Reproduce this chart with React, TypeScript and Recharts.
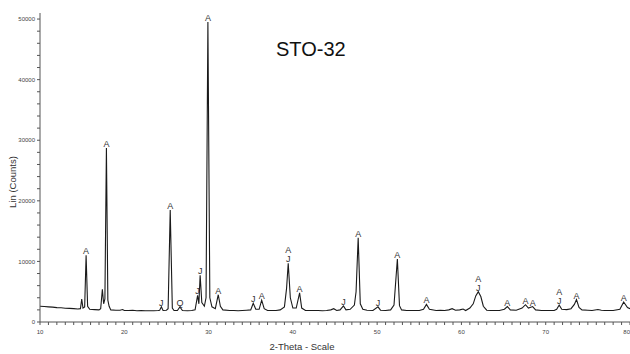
import { LineChart, Line, XAxis, YAxis, ReferenceDot } from "recharts";

// XRD profile: [2-theta, counts]
const profile: [number, number][] = [
  [10.0, 2600], [10.5, 2550], [11.0, 2500], [11.5, 2450], [12.0, 2380], [12.5, 2350],
  [13.0, 2280], [13.5, 2250], [14.0, 2200], [14.5, 2150], [14.8, 2200], [14.95, 3800],
  [15.1, 2300], [15.3, 2500], [15.47, 11000], [15.65, 2600], [15.9, 2100], [16.5, 2050],
  [17.0, 2000], [17.2, 2200], [17.4, 5400], [17.55, 3000], [17.7, 3800], [17.88, 28700],
  [18.05, 3600], [18.2, 2600], [18.4, 2000], [19.0, 1950], [19.5, 1950], [19.8, 2050],
  [20.0, 1900], [20.5, 1900], [21.0, 1950], [21.5, 1850], [22.0, 1900], [22.5, 1850],
  [23.0, 1850], [23.5, 1850], [24.0, 1900], [24.2, 1950], [24.4, 2500], [24.6, 1900],
  [25.0, 1950], [25.2, 2200], [25.45, 18500], [25.7, 2300], [25.9, 1900], [26.3, 1900],
  [26.6, 2500], [26.9, 1900], [27.5, 1850], [28.0, 1900], [28.4, 2000], [28.7, 4400],
  [28.85, 3000], [29.0, 7700], [29.2, 3200], [29.5, 2600], [29.7, 4000], [29.92, 49500],
  [30.15, 4000], [30.4, 2500], [30.8, 2200], [31.15, 4500], [31.4, 2600], [31.7, 2000],
  [32.5, 1900], [33.0, 1900], [33.5, 1850], [34.0, 1900], [34.5, 1950], [35.0, 2000],
  [35.3, 3100], [35.6, 2100], [36.0, 2100], [36.3, 3600], [36.6, 2200], [37.0, 1900],
  [37.5, 1900], [38.0, 1900], [38.5, 2000], [39.0, 2500], [39.25, 5500], [39.45, 9700],
  [39.7, 4000], [40.0, 2300], [40.4, 2300], [40.8, 4800], [41.05, 2300], [41.5, 1900],
  [42.0, 1900], [43.0, 1900], [43.5, 1850], [44.0, 1900], [44.5, 2000], [44.85, 2200],
  [45.2, 1900], [45.6, 2000], [46.0, 2650], [46.3, 2000], [46.8, 2100], [47.3, 2800],
  [47.5, 5000], [47.75, 13900], [48.0, 3000], [48.3, 2100], [48.8, 1950], [49.5, 1900],
  [50.1, 2500], [50.4, 1950], [51.0, 1900], [51.6, 2000], [52.0, 2800], [52.4, 10400],
  [52.65, 2700], [52.9, 2000], [53.5, 1900], [54.0, 1900], [55.0, 1900], [55.5, 2100],
  [55.85, 2900], [56.2, 2100], [57.0, 1900], [57.5, 1950], [58.0, 1900], [58.5, 2000],
  [58.9, 2200], [59.3, 1950], [59.8, 2000], [60.2, 2150], [60.5, 1900], [61.0, 2300],
  [61.4, 3000], [61.7, 4300], [62.0, 5000], [62.3, 4200], [62.6, 2600], [63.0, 1950],
  [63.5, 1900], [64.0, 1900], [64.5, 1900], [65.1, 2100], [65.45, 2550], [65.8, 2000],
  [66.5, 1950], [67.2, 2300], [67.6, 2850], [67.95, 2300], [68.45, 2550], [68.8, 2000],
  [69.5, 1900], [70.0, 1900], [71.0, 1900], [71.3, 2100], [71.6, 2800], [71.9, 2100],
  [72.5, 2050], [73.0, 2200], [73.4, 2900], [73.65, 3700], [73.95, 2400], [74.3, 2000],
  [75.0, 1950], [75.5, 1900], [76.2, 2050], [76.6, 1950], [77.0, 1900], [78.0, 1900],
  [78.8, 2100], [79.25, 3300], [79.7, 2400], [80.0, 2200],
];

// phase tags over peaks (A, J, Q), listed top to bottom
const peakTags: { theta: number; counts: number; tags: string[] }[] = [
  { theta: 15.47, counts: 11000, tags: ["A"] },
  { theta: 17.88, counts: 28700, tags: ["A"] },
  { theta: 24.4, counts: 2500, tags: ["J"] },
  { theta: 25.45, counts: 18500, tags: ["A"] },
  { theta: 26.6, counts: 2500, tags: ["Q"] },
  { theta: 28.7, counts: 4400, tags: ["J"] },
  { theta: 29.0, counts: 7700, tags: ["J"] },
  { theta: 29.92, counts: 49500, tags: ["A"] },
  { theta: 31.15, counts: 4500, tags: ["A"] },
  { theta: 35.3, counts: 3100, tags: ["J"] },
  { theta: 36.3, counts: 3600, tags: ["A"] },
  { theta: 39.45, counts: 9700, tags: ["A", "J"] },
  { theta: 40.8, counts: 4800, tags: ["A"] },
  { theta: 46.0, counts: 2650, tags: ["J"] },
  { theta: 47.75, counts: 13900, tags: ["A"] },
  { theta: 50.1, counts: 2500, tags: ["J"] },
  { theta: 52.4, counts: 10400, tags: ["A"] },
  { theta: 55.85, counts: 2900, tags: ["A"] },
  { theta: 62.0, counts: 5000, tags: ["A", "J"] },
  { theta: 65.45, counts: 2550, tags: ["A"] },
  { theta: 67.6, counts: 2850, tags: ["A"] },
  { theta: 68.45, counts: 2550, tags: ["A"] },
  { theta: 71.6, counts: 2800, tags: ["A", "J"] },
  { theta: 73.65, counts: 3700, tags: ["A"] },
  { theta: 79.25, counts: 3300, tags: ["A"] },
];

const xTicks = Array.from({ length: 71 }, (_, i) => 10 + i);
const yTicks = Array.from({ length: 26 }, (_, i) => i * 2000);

const data = profile.map(([theta, counts]) => ({ theta, counts }));

const font = "'Liberation Sans', Arial, sans-serif";
const tickStyle = { fontSize: 6, fill: "#444", fontFamily: font };

// x tick: label only every 10 deg, last one kept inside the frame
const XTick = (props: any) => {
  const { x, y, payload } = props;
  const v = payload.value;
  if (v % 10 !== 0) return null;
  return (
    <text
      x={x}
      y={y + 7}
      textAnchor={v === 80 ? "end" : "middle"}
      fontSize={6}
      fill="#444"
      fontFamily={font}
    >
      {v}
    </text>
  );
};

export default function App() {
  return (
    <div style={{ position: "relative", width: 630, height: 354, background: "#fff", fontFamily: font, overflow: "hidden" }}>
      <style>{`body{margin:0}`}</style>
      <LineChart
        width={632}
        height={354}
        data={data}
        margin={{ top: 13, right: 2, left: 10, bottom: 0 }}
      >
        <XAxis
          dataKey="theta"
          type="number"
          domain={[10, 80]}
          ticks={xTicks}
          interval={0}
          tick={<XTick />}
          tickSize={3}
          height={32}
          stroke="#555"
          allowDataOverflow
        />
        <YAxis
          type="number"
          domain={[0, 51000]}
          ticks={yTicks}
          interval={0}
          tickFormatter={(v) => (v % 10000 === 0 ? String(v) : "")}
          tick={tickStyle}
          tickSize={3}
          width={30}
          stroke="#555"
          allowDataOverflow
        />
        <Line
          dataKey="counts"
          type="linear"
          stroke="#1a1a1a"
          strokeWidth={1.1}
          dot={false}
          isAnimationActive={false}
        />
        {peakTags.flatMap((p) =>
          p.tags
            .slice()
            .reverse()
            .map((t, i) => (
              <ReferenceDot
                key={`${p.theta}-${t}-${i}`}
                x={p.theta}
                y={p.counts}
                r={0}
                fill="none"
                stroke="none"
                ifOverflow="visible"
                label={{
                  value: t,
                  position: "top",
                  offset: 1 + i * 9,
                  fontSize: 9,
                  fill: "#333",
                  stroke: "none",
                  fontFamily: font,
                }}
              />
            ))
        )}
      </LineChart>
      <div
        style={{
          position: "absolute",
          left: 276,
          top: 38,
          fontSize: 20,
          color: "#111",
        }}
      >
        STO-32
      </div>
      <div
        style={{
          position: "absolute",
          left: 12,
          top: 182,
          fontSize: 9.5,
          color: "#333",
          transform: "translate(-50%, -50%) rotate(-90deg)",
          whiteSpace: "nowrap",
        }}
      >
        Lin (Counts)
      </div>
      <div
        style={{
          position: "absolute",
          left: 302,
          top: 341,
          fontSize: 9.5,
          color: "#333",
          transform: "translateX(-50%)",
          whiteSpace: "nowrap",
        }}
      >
        2-Theta - Scale
      </div>
    </div>
  );
}
